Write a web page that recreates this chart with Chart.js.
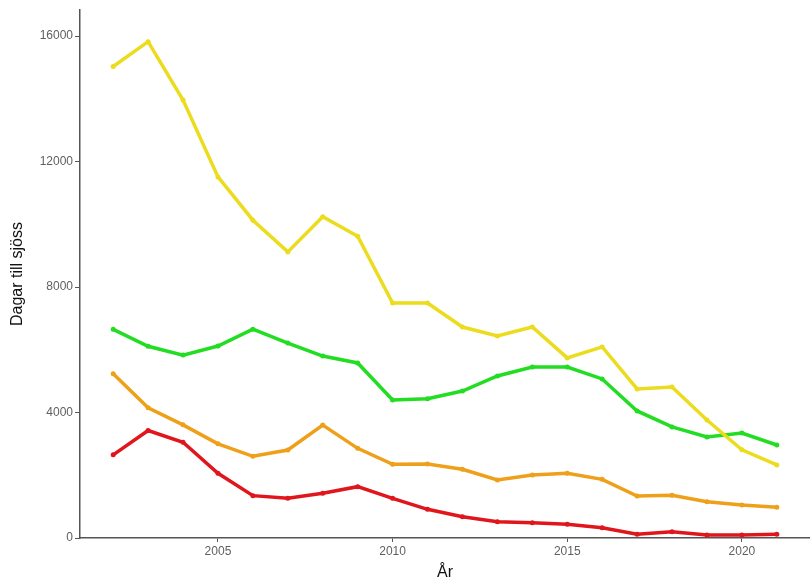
<!DOCTYPE html>
<html>
<head>
<meta charset="utf-8">
<script src="https://cdn.jsdelivr.net/npm/chart.js@4"></script>
<style>
  html, body { margin: 0; padding: 0; background: #fff; }
  #wrap { width: 810px; height: 579px; position: relative; }
</style>
</head>
<body>
<div id="wrap"><canvas id="chart"></canvas></div>
<script>
// Dagar till sjöss per år och kategori
const years = [2002, 2003, 2004, 2005, 2006, 2007, 2008, 2009, 2010, 2011,
               2012, 2013, 2014, 2015, 2016, 2017, 2018, 2019, 2020, 2021];

const yellowDays = [15030, 15820, 13960, 11510, 10130, 9120, 10240, 9620, 7490, 7490,
                    6725, 6440, 6725, 5740, 6090, 4750, 4810, 3760, 2810, 2330];
const greenDays  = [6650, 6110, 5830, 6120, 6655, 6215, 5800, 5580, 4400, 4440,
                    4685, 5165, 5450, 5450, 5070, 4050, 3540, 3220, 3345, 2965];
const orangeDays = [5236, 4150, 3607, 3001, 2605, 2805, 3600, 2858, 2348, 2359,
                    2189, 1848, 2008, 2062, 1870, 1338, 1360, 1157, 1052, 977];
const redDays    = [2650, 3426, 3052, 2062, 1350, 1265, 1424, 1636, 1265, 914,
                    680, 521, 489, 436, 329, 117, 202, 96, 96, 117];

const xTicks = [2005, 2010, 2015, 2020];
const yTicks = [0, 4000, 8000, 12000, 16000];

const seriesColors = ['#EBDC1E', '#22DD22', '#EFA01A', '#E0161C'];
const seriesValues = [yellowDays, greenDays, orangeDays, redDays];

const datasets = seriesValues.map((vals, i) => ({
  data: vals.map((v, j) => ({ x: years[j], y: v })),
  borderColor: seriesColors[i],
  backgroundColor: seriesColors[i],
  borderWidth: 3.5,
  pointRadius: 2.5,
  pointBorderWidth: 0,
  tension: 0
}));

const axisGray = '#555555';
const fontFamily = 'Liberation Sans, Arial, sans-serif';

new Chart(document.getElementById('chart').getContext('2d'), {
  type: 'line',
  data: { datasets },
  options: {
    responsive: true,
    maintainAspectRatio: false,
    animation: false,
    layout: { autoPadding: false, padding: { top: 10, right: 0, left: 0, bottom: 0 } },
    plugins: { legend: { display: false }, tooltip: { enabled: false } },
    scales: {
      x: {
        type: 'linear',
        min: 2001.05,
        max: 2021.95,
        afterBuildTicks(scale) { scale.ticks = xTicks.map(v => ({ value: v })); },
        afterFit(scale) { scale.height = 41; },
        border: { display: true, color: axisGray, width: 1.5 },
        grid: { display: true, drawOnChartArea: false, color: axisGray, tickLength: 4, lineWidth: 1 },
        ticks: {
          padding: 2,
          maxRotation: 0,
          color: '#606060',
          font: { family: fontFamily, size: 12 },
          callback: v => String(v)
        },
        title: {
          display: true,
          text: 'År',
          color: '#111111',
          padding: { top: 0, bottom: -3 },
          font: { family: fontFamily, size: 16 }
        }
      },
      y: {
        type: 'linear',
        min: 0,
        max: 16830,
        afterBuildTicks(scale) { scale.ticks = yTicks.map(v => ({ value: v })); },
        afterFit(scale) { scale.width = 80; },
        border: { display: true, color: axisGray, width: 1.5 },
        grid: { display: true, drawOnChartArea: false, color: axisGray, tickLength: 5, lineWidth: 1 },
        ticks: {
          padding: 2,
          color: '#606060',
          font: { family: fontFamily, size: 12 },
          callback: v => String(v)
        },
        title: {
          display: true,
          text: 'Dagar till sjöss',
          color: '#111111',
          padding: { top: 8, bottom: 0 },
          font: { family: fontFamily, size: 16 }
        }
      }
    }
  }
});
</script>
</body>
</html>
